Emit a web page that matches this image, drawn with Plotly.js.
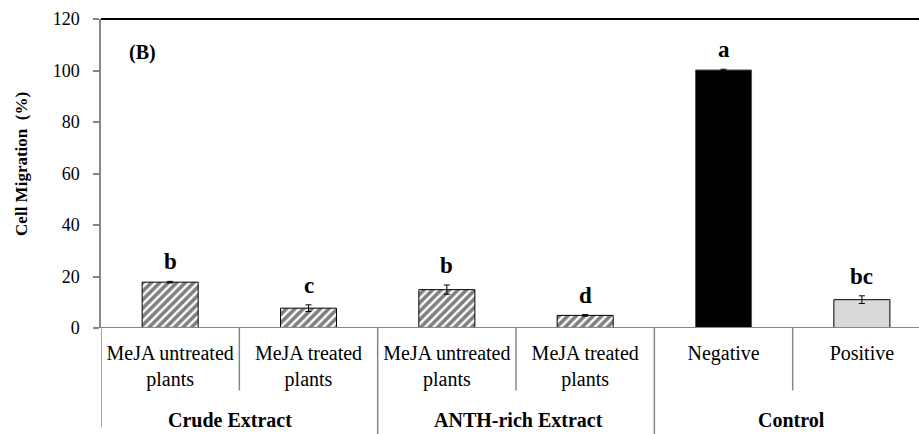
<!DOCTYPE html>
<html>
<head>
<meta charset="utf-8">
<script src="https://cdn.plot.ly/plotly-3.0.1.min.js"></script>
<style>html,body{margin:0;padding:0;background:#fff;}#chart{width:919px;height:434px;}</style>
</head>
<body>
<div id="chart"></div>
<script>
// ---- data ----
var categories = ["MeJA untreated<br>plants", "MeJA treated<br>plants", "MeJA untreated<br>plants", "MeJA treated<br>plants", "Negative", "Positive"];
var groups = ["Crude\u00A0Extract", "ANTH-rich Extract", "Control"];
var migration = [17.8, 7.7, 14.9, 4.9, 100.2, 11.0];
var migrationErr = [0.3, 1.3, 1.8, 0.3, 0.3, 1.5];
var sigLetters = ["b", "c", "b", "d", "a", "bc"];
var yTicks = [0, 20, 40, 60, 80, 100, 120];
var panelLabel = "(B)";
var yTitle = "Cell Migration\u00A0\u00A0(%)";

var FONT = "Liberation Serif";
var GREY = "#878787";
var xIdx = categories.map(function(_, i){ return i; });

var hatchIdx = [0, 1, 2, 3];
var solidIdx = [4, 5];
var solidColors = ["#000000", "#d9d9d9"];

var hatchTrace = {
  type: "bar",
  x: hatchIdx,
  y: hatchIdx.map(function(i){ return migration[i]; }),
  width: 0.405,
  marker: {
    color: "#ffffff",
    line: {color: "#000", width: 1},
    pattern: {shape: "/", fgcolor: "#000000", bgcolor: "#ffffff", size: 6, solidity: 0.6, fillmode: "overlay"}
  },
  error_y: {type: "data", array: hatchIdx.map(function(i){ return migrationErr[i]; }), visible: true, color: "#000", thickness: 1, width: 3},
  hoverinfo: "none"
};
var solidTrace = {
  type: "bar",
  x: solidIdx,
  y: solidIdx.map(function(i){ return migration[i]; }),
  width: 0.405,
  marker: {color: solidColors, line: {color: ["#555", "#000"], width: 1}},
  error_y: {type: "data", array: solidIdx.map(function(i){ return migrationErr[i]; }), visible: true, color: "#000", thickness: 1, width: 3},
  hoverinfo: "none"
};

var annotations = [];
migration.forEach(function(v, i){
  annotations.push({
    x: i, y: v + migrationErr[i], xref: "x", yref: "y",
    text: "<b>" + sigLetters[i] + "</b>", showarrow: false,
    xanchor: "center", yanchor: "bottom", yshift: 5,
    font: {family: FONT, size: 23, color: "#000"}
  });
});
var groupCenters = [0.5, 2.5, 4.5];
var groupShift = [-9, 2, -1];
groups.forEach(function(g, k){
  annotations.push({
    x: groupCenters[k], y: -0.297, xref: "x", yref: "paper",
    text: "<b>" + g + "</b>", showarrow: false, xshift: groupShift[k],
    xanchor: "center", yanchor: "middle",
    font: {family: FONT, size: 20, color: "#000"}
  });
});
annotations.push({
  x: 0.032, y: 0.89, xref: "paper", yref: "paper", text: "<b>" + panelLabel + "</b>",
  showarrow: false, xanchor: "left", yanchor: "middle",
  font: {family: FONT, size: 20, color: "#000"}
});
annotations.push({
  x: -0.0966, y: 0.531, xref: "paper", yref: "paper", text: "<b>" + yTitle + "</b>",
  showarrow: false, textangle: -90, xanchor: "center", yanchor: "middle",
  font: {family: FONT, size: 17, color: "#000"}
});

var shapes = [];
shapes.push({type: "line", xref: "paper", yref: "paper", x0: 0, x1: 1, y0: 1, y1: 1, line: {color: "#000", width: 2}});
shapes.push({type: "line", xref: "paper", yref: "y", x0: 0, x1: 1, y0: 0, y1: 0, layer: "above", line: {color: GREY, width: 2}});
[0.5, 2.5, 4.5].forEach(function(x){
  shapes.push({type: "line", xref: "x", yref: "paper", x0: x, x1: x, y0: 0, y1: -0.202, line: {color: GREY, width: 1.5}});
});
[1.5, 3.5].forEach(function(x){
  shapes.push({type: "line", xref: "x", yref: "paper", x0: x, x1: x, y0: 0, y1: -0.345, line: {color: GREY, width: 1.5}});
});
shapes.push({type: "line", xref: "x", yref: "paper", x0: -0.5, x1: -0.5, y0: 0, y1: -0.321, line: {color: GREY, width: 1.5}});

var layout = {
  width: 919, height: 434,
  margin: {l: 101, r: 0, t: 19, b: 105.5, pad: 0},
  paper_bgcolor: "#fff", plot_bgcolor: "#fff",
  font: {family: FONT, size: 18, color: "#000"},
  showlegend: false,
  barmode: "overlay",
  xaxis: {
    type: "linear", range: [-0.5, 5.413],
    tickmode: "array", tickvals: xIdx, ticktext: categories,
    ticks: "", showgrid: false, zeroline: false,
    showline: false,
    tickfont: {family: FONT, size: 20, color: "#000"},
    ticklabelstandoff: 11
  },
  yaxis: {
    range: [0, 120], tickmode: "array", tickvals: yTicks, ticktext: yTicks.map(String),
    ticks: "outside", ticklen: 6, tickwidth: 1.5, tickcolor: GREY,
    showline: true, linecolor: GREY, linewidth: 1.5,
    showgrid: false, zeroline: false,
    tickfont: {family: FONT, size: 18, color: "#000"},
    ticklabelstandoff: 10
  },
  annotations: annotations,
  shapes: shapes
};

Plotly.newPlot("chart", [hatchTrace, solidTrace], layout, {displayModeBar: false});
</script>
</body>
</html>
